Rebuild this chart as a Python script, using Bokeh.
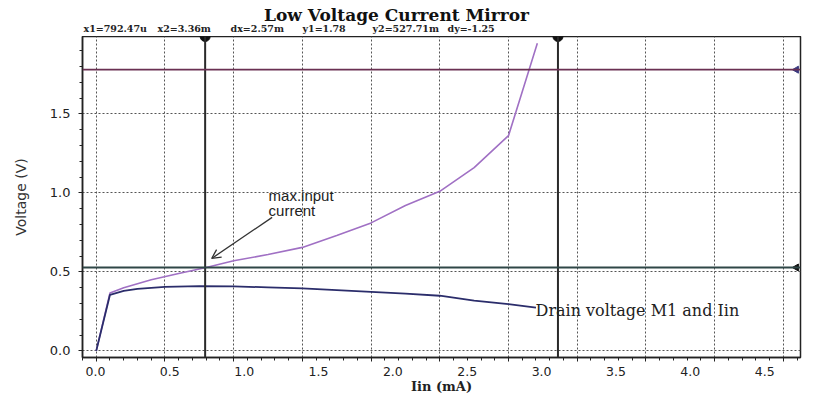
import numpy as np
from bokeh.plotting import figure
from bokeh.layouts import column
from bokeh.models import (Range1d, LinearAxis, SingleIntervalTicker, Span, Label,
                          Arrow, OpenHead, NumeralTickFormatter, CustomLabelingPolicy)
from bokeh.embed import file_html
from bokeh.resources import INLINE
from bokeh.core.properties import value

# ---------------- data ----------------
# input-side voltage vs input current (purple trace)
iin_in = [0.0, 0.1, 0.2, 0.4, 0.6, 0.8, 1.0, 1.25, 1.5, 1.75, 2.0, 2.25, 2.5, 2.75, 3.0, 3.1, 3.21]
v_in = [0.0, 0.366, 0.40, 0.45, 0.49, 0.528, 0.57, 0.61, 0.655, 0.73, 0.81, 0.92, 1.01, 1.16, 1.362, 1.64, 1.947]
# drain voltage of M1 vs input current (navy trace)
iin_drain = [0.0, 0.1, 0.2, 0.3, 0.5, 0.75, 1.0, 1.25, 1.5, 1.75, 2.0, 2.25, 2.5, 2.75, 3.0, 3.2]
v_drain = [0.0, 0.355, 0.38, 0.393, 0.405, 0.41, 0.408, 0.402, 0.395, 0.385, 0.374, 0.362, 0.349, 0.318, 0.296, 0.274]
# cursors
cursor_x = [0.79247, 3.36]        # mA
cursor_y = [1.78, 0.52771]        # V
readout = ["x1=792.47u", "x2=3.36m", "dx=2.57m", "y1=1.78", "y2=527.71m", "dy=-1.25"]
title_text = "Low Voltage Current Mirror"
x_title = "Iin (mA)"
y_title = "Voltage (V)"
curve_label = "Drain voltage M1 and Iin"
note_lines = ["max.input", "current"]

X0, X1 = -0.1, 5.125
Y0, Y1 = -0.042, 1.99

# ---------------- header strip: title + cursor readout ----------------
# (its frame is aligned by the column layout with the main frame: pixels 82..800)
HEAD_H = 36
head = figure(width=824, height=HEAD_H, x_range=Range1d(82, 800), y_range=Range1d(HEAD_H, 0),
              output_backend="svg", toolbar_location=None, title=None,
              min_border=0, min_border_left=0, min_border_right=0, min_border_top=0, min_border_bottom=0)
head.axis.visible = False
head.grid.visible = False
head.outline_line_color = None
head.background_fill_color = "white"
head.border_fill_color = "white"
head.text(x=[396], y=[14], text=[title_text], text_font=value("DejaVu Serif"),
          text_font_style="bold", text_font_size="17px", text_color="#111111",
          text_align="center", text_baseline="alphabetic")
readout_x = [83, 157, 230, 302, 372, 447]
head.text(x=readout_x, y=[28] * len(readout), text=readout, text_font=value("DejaVu Serif"),
          text_font_style="bold", text_font_size="9.5px", text_color="#222222",
          text_align="left", text_baseline="alphabetic")

# ---------------- main plot ----------------
p = figure(width=824, height=397 - HEAD_H, x_range=Range1d(X0, X1), y_range=Range1d(Y0, Y1),
           output_backend="svg", toolbar_location=None, title=None,
           min_border_left=82, min_border_right=24, min_border_top=0, min_border_bottom=40)
p.background_fill_color = "white"
p.border_fill_color = "white"
p.outline_line_color = "#222222"
p.outline_line_width = 1.5

# grid-aligned x axis (tick marks only, labels suppressed)
xa = p.xaxis[0]
xa.ticker = SingleIntervalTicker(interval=0.5, num_minor_ticks=5)
xa.major_label_text_font_size = "0px"
xa.major_label_policy = CustomLabelingPolicy(
    code="for (const i of Array.from(indices)) { indices.unset(i) } return indices")
xa.major_label_standoff = 0
xa.major_tick_out = 4
xa.major_tick_in = 0
xa.minor_tick_out = 3
xa.minor_tick_in = 0
xa.axis_line_color = "#222222"
xa.axis_line_width = 1.5
xa.major_tick_line_color = "#222222"
xa.minor_tick_line_color = "#222222"

# labelled x axis (labels placed as printed in the reference)
p.extra_x_ranges = {"lab": Range1d(-0.087, 4.741)}
xl = LinearAxis(x_range_name="lab", ticker=SingleIntervalTicker(interval=0.5, num_minor_ticks=0),
                formatter=NumeralTickFormatter(format="0.0"))
xl.axis_line_color = None
xl.major_tick_line_color = None
xl.minor_tick_line_color = None
xl.major_tick_out = 0
xl.major_tick_in = 0
xl.major_label_standoff = 5
xl.major_label_text_font = "DejaVu Sans"
xl.major_label_text_font_size = "12.5px"
xl.major_label_text_color = "#222222"
xl.axis_label = x_title
xl.axis_label_text_font = "DejaVu Serif"
xl.axis_label_text_font_style = "bold"
xl.axis_label_text_font_size = "13px"
xl.axis_label_text_color = "#222222"
xl.axis_label_standoff = 0
p.add_layout(xl, "below")

# y axis
ya = p.yaxis[0]
ya.ticker = SingleIntervalTicker(interval=0.5, num_minor_ticks=5)
ya.formatter = NumeralTickFormatter(format="0.0")
ya.major_tick_out = 4
ya.major_tick_in = 0
ya.minor_tick_out = 3
ya.minor_tick_in = 0
ya.axis_line_color = "#222222"
ya.axis_line_width = 1.5
ya.major_tick_line_color = "#222222"
ya.minor_tick_line_color = "#222222"
ya.major_label_standoff = 8
ya.major_label_text_font = "DejaVu Sans"
ya.major_label_text_font_size = "13px"
ya.major_label_text_color = "#222222"
ya.axis_label = y_title
ya.axis_label_text_font = "DejaVu Sans"
ya.axis_label_text_font_style = "normal"
ya.axis_label_text_font_size = "14px"
ya.axis_label_text_color = "#333333"
ya.axis_label_standoff = 18

# grids
for g in (p.xgrid[0], p.ygrid[0]):
    g.grid_line_color = "#555555"
    g.grid_line_dash = "2 2"
    g.grid_line_width = 1

# cursors
for cx in cursor_x:
    p.add_layout(Span(location=cx, dimension="height", line_color="#2a2a2a", line_width=2))
p.add_layout(Span(location=cursor_y[0], dimension="width", line_color="#6a3052", line_width=1.6))
p.add_layout(Span(location=cursor_y[1], dimension="width", line_color="#2f4747", line_width=2))
p.scatter(x=cursor_x, y=[Y1, Y1], marker="circle", size=10, color="#111111")
p.scatter(x=[X1 - 0.03, X1 - 0.03], y=cursor_y, marker="triangle", angle=np.pi / 2,
          size=7, color=["#3a3a80", "#111111"])

# traces
p.line(iin_in, v_in, line_color="#a070c4", line_width=1.6)
p.line(iin_drain, v_drain, line_color="#2b2d6b", line_width=1.8)

# annotations
p.add_layout(Label(x=1.254, y=0.982, text=note_lines[0], text_font="Liberation Sans",
                   text_font_size="15px", text_color="#222222", text_baseline="alphabetic"))
p.add_layout(Label(x=1.254, y=0.887, text=note_lines[1], text_font="Liberation Sans",
                   text_font_size="15px", text_color="#222222", text_baseline="alphabetic"))
p.add_layout(Arrow(end=OpenHead(size=9, line_color="#333333", line_width=1.3),
                   x_start=1.28, y_start=0.845, x_end=0.84, y_end=0.585,
                   line_color="#333333", line_width=1.3))
p.add_layout(Label(x=3.197, y=0.257, text=curve_label, text_font="DejaVu Serif",
                   text_font_size="16px", text_color="#222222", text_baseline="alphabetic"))

layout = column(head, p, spacing=0)
open("out.html", "w").write(file_html(layout, INLINE))
